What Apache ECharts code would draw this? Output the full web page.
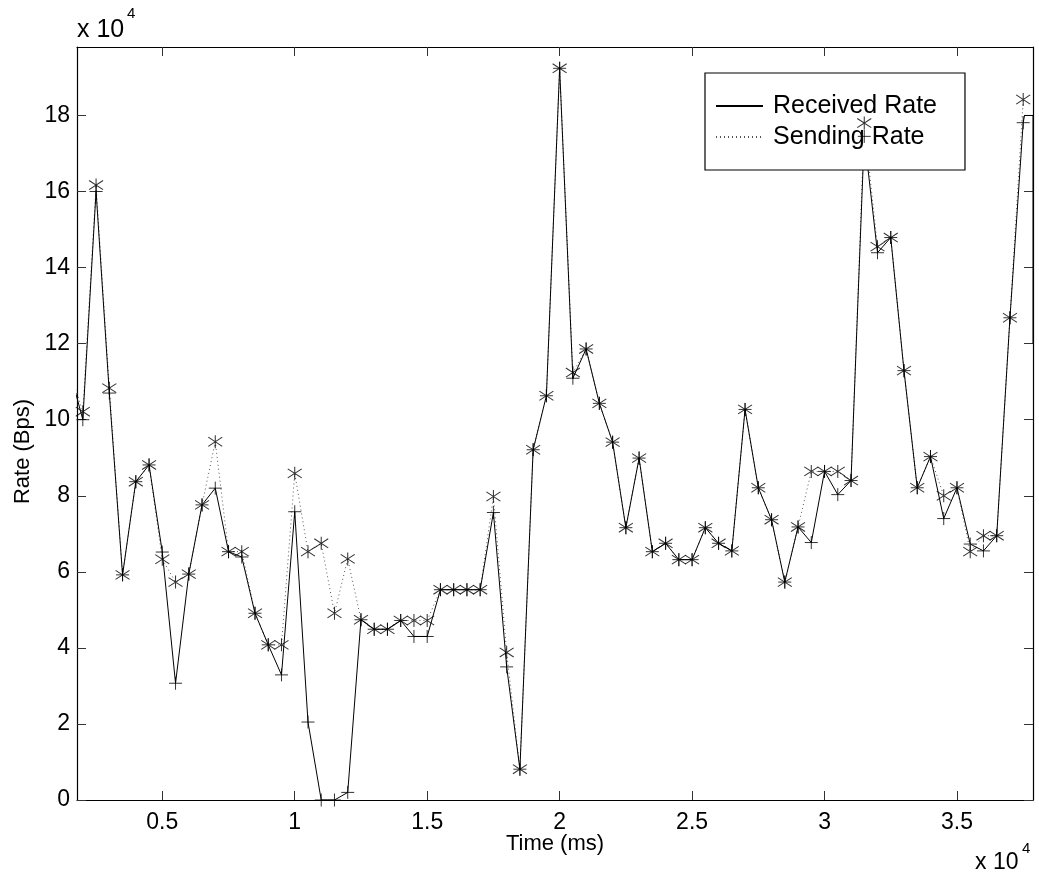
<!DOCTYPE html>
<html>
<head>
<meta charset="utf-8">
<script src="https://cdn.jsdelivr.net/npm/echarts@6/dist/echarts.min.js"></script>
<style>
  html, body { margin: 0; padding: 0; background: #fff; }
  #chart { width: 1039px; height: 881px; }
</style>
</head>
<body>
<div id="chart"></div>
<script>
// ---- data (time in ms, rates in Bps) ----
const times = [1500, 2000, 2500, 3000, 3500, 4000, 4500, 5000, 5500, 6000, 6500, 7000, 7500, 8000, 8500, 9000, 9500,
  10000, 10500, 11000, 11500, 12000, 12500, 13000, 13500, 14000, 14500, 15000, 15500, 16000, 16500, 17000, 17500,
  18000, 18500, 19000, 19500, 20000, 20500, 21000, 21500, 22000, 22500, 23000, 23500, 24000, 24500, 25000, 25500,
  26000, 26500, 27000, 27500, 28000, 28500, 29000, 29500, 30000, 30500, 31000, 31500, 32000, 32500, 33000, 33500,
  34000, 34500, 35000, 35500, 36000, 36500, 37000, 37500];

const receivedRate = [113000, 100000, 160000, 107000, 59200, 83700, 88100, 65200, 30700, 59400, 77600, 82000, 65300, 63900, 49100, 40800, 32900,
  75800, 20500, 0, 0, 2000, 47400, 44900, 44900, 47200, 43000, 43000, 55300, 55300, 55300, 55300, 75600,
  35000, 8100, 92100, 106300, 192400, 110900, 118600, 104300, 94100, 71600, 89900, 65300, 67500, 63200, 63200, 71600,
  67500, 65500, 102700, 82100, 73700, 57300, 71800, 67700, 86400, 80300, 84000, 174500, 143900, 147900, 112900, 82100,
  90300, 74000, 82100, 67300, 65500, 69500, 126800, 178100];

const sendingRate = [113000, 102100, 161700, 108300, 59200, 83700, 88100, 63300, 57300, 59400, 77600, 94200, 65300, 65300, 49100, 40800, 40800,
  85900, 65300, 67500, 49100, 63400, 47400, 44900, 44900, 47200, 47200, 47200, 55300, 55300, 55300, 55300, 79800,
  38800, 8100, 92100, 106300, 192400, 112400, 118600, 104300, 94100, 71600, 89900, 65300, 67500, 63200, 63200, 71600,
  67500, 65500, 102700, 82100, 73700, 57300, 71800, 86400, 86400, 86400, 84000, 178000, 145500, 147900, 112900, 82100,
  90300, 80000, 82100, 65300, 69500, 69500, 126800, 184200];

// trailing received segment running into the right edge (no markers)
const receivedTailTimes = [37550, 37870, 37870];
const receivedTail = [180000, 180000, 120000];

const xTicks = [5000, 10000, 15000, 20000, 25000, 30000, 35000];
const yTicks = [0, 20000, 40000, 60000, 80000, 100000, 120000, 140000, 160000, 180000];

const X_MIN = 1780, X_MAX = 37870, Y_MIN = 0, Y_MAX = 198000;

// ---- build ----
const FONT = '"Liberation Sans", Arial, Helvetica, sans-serif';
const recvPairs = times.map((t, i) => [t, receivedRate[i]]);
const sendPairs = times.map((t, i) => [t, sendingRate[i]]);
const recvLine = recvPairs.concat(receivedTailTimes.map((t, i) => [t, receivedTail[i]]));

const plusPath = 'path://M5,0 L5,10 M0,5 L10,5';
const starPath = 'path://M5,0 L5,10 M0.8,1.5 L9.2,8.5 M0.8,8.5 L9.2,1.5';

const fmt = v => String(+(v / 10000).toFixed(2));

const chart = echarts.init(document.getElementById('chart'), null, { renderer: 'canvas' });
chart.setOption({
  animation: false,
  backgroundColor: '#fff',
  textStyle: { fontFamily: FONT },
  grid: { left: 77, right: 6, top: 47, bottom: 81, outerBoundsMode: 'none', containLabel: false },
  legend: {
    data: ['Received Rate', 'Sending Rate'],
    orient: 'vertical',
    left: 705, top: 73,
    padding: [20, 28, 20, 10],
    itemWidth: 47, itemHeight: 12, itemGap: 5,
    borderColor: '#000', borderWidth: 1.2, borderRadius: 0,
    backgroundColor: '#fff',
    itemStyle: { color: 'rgba(0,0,0,0)', borderWidth: 0, opacity: 0 },
    textStyle: { fontFamily: FONT, fontSize: 25, color: '#000', padding: [0, 0, 0, 5], lineHeight: 26 },
    selectedMode: false
  },
  xAxis: [{
    type: 'value', min: X_MIN, max: X_MAX, position: 'bottom',
    name: 'Time (ms)', nameLocation: 'middle', nameGap: 33, nameMoveOverlap: false,
    nameTextStyle: { fontFamily: FONT, fontSize: 22, color: '#000', verticalAlign: 'top' },
    axisLine: { show: true, onZero: false, lineStyle: { color: '#000', width: 1.2 } },
    axisTick: { show: true, inside: true, length: 9, customValues: xTicks, lineStyle: { color: '#333' } },
    axisLabel: { customValues: xTicks, formatter: fmt, fontFamily: FONT, fontSize: 23, color: '#000', margin: 11 },
    splitLine: { show: false }
  }, {
    type: 'value', min: X_MIN, max: X_MAX, position: 'top',
    axisLine: { show: true, onZero: false, lineStyle: { color: '#000', width: 1.2 } },
    axisTick: { show: true, inside: true, length: 9, customValues: xTicks, lineStyle: { color: '#333' } },
    axisLabel: { show: false },
    splitLine: { show: false }
  }],
  yAxis: [{
    type: 'value', min: Y_MIN, max: Y_MAX, position: 'left',
    name: 'Rate (Bps)', nameLocation: 'middle', nameGap: 43, nameRotate: 90, nameMoveOverlap: false,
    nameTextStyle: { fontFamily: FONT, fontSize: 22, color: '#000', padding: [0, 56, 0, 0] },
    axisLine: { show: true, onZero: false, lineStyle: { color: '#000', width: 1.2 } },
    axisTick: { show: true, inside: true, length: 9, customValues: yTicks, lineStyle: { color: '#333' } },
    axisLabel: { customValues: yTicks, formatter: fmt, fontFamily: FONT, fontSize: 23, color: '#000', margin: 7 },
    splitLine: { show: false }
  }, {
    type: 'value', min: Y_MIN, max: Y_MAX, position: 'right',
    axisLine: { show: true, onZero: false, lineStyle: { color: '#000', width: 1.2 } },
    axisTick: { show: true, inside: true, length: 9, customValues: yTicks, lineStyle: { color: '#333' } },
    axisLabel: { show: false },
    splitLine: { show: false }
  }],
  series: [{
    name: 'Received Rate', type: 'line', data: recvLine, symbol: 'none', clip: true,
    color: '#000', lineStyle: { color: '#000', width: 1, type: 'solid' }, z: 3
  }, {
    name: 'Sending Rate', type: 'line', data: sendPairs, symbol: 'none', clip: true,
    color: '#555', lineStyle: { color: '#555', width: 1, type: [1, 3] }, z: 2
  }, {
    name: 'recv-markers', type: 'scatter', data: recvPairs, clip: true,
    symbol: plusPath, symbolSize: 13,
    itemStyle: { color: 'none', borderColor: '#000', borderWidth: 1 }, z: 4
  }, {
    name: 'send-markers', type: 'scatter', data: sendPairs, clip: true,
    symbol: starPath, symbolSize: [14, 13],
    itemStyle: { color: 'none', borderColor: '#000', borderWidth: 1 }, z: 4
  }],
  graphic: [
    { type: 'text', left: 77, top: 18, style: { text: 'x 10', font: '25px ' + FONT, fill: '#000' } },
    { type: 'text', left: 127, top: 6, style: { text: '4', font: '15px ' + FONT, fill: '#000' } },
    { type: 'text', left: 975, top: 851, style: { text: 'x 10', font: '23px ' + FONT, fill: '#000' } },
    { type: 'text', left: 1022, top: 841, style: { text: '4', font: '15px ' + FONT, fill: '#000' } }
  ]
});
</script>
</body>
</html>
